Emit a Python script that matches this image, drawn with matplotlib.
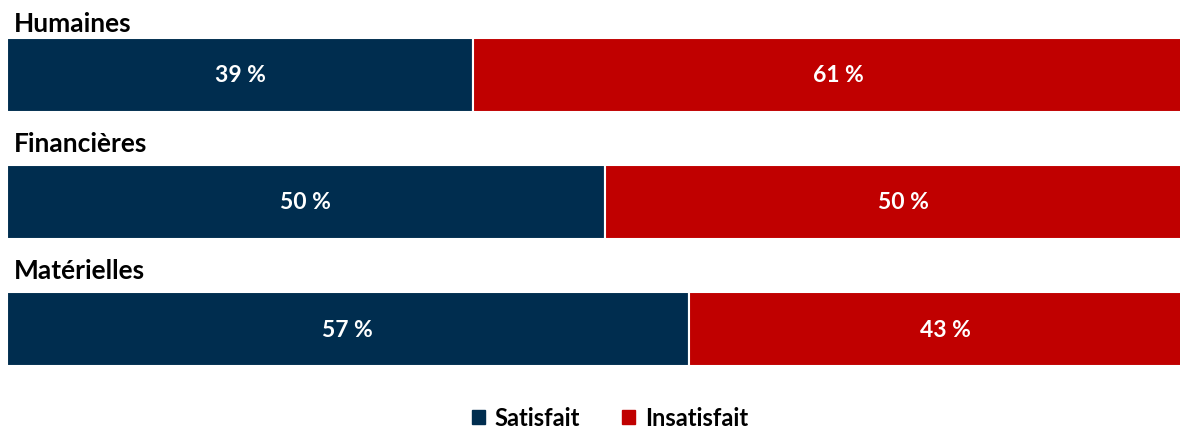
"""Satisfaction par type de ressources - barres empilees horizontales"""

import matplotlib.pyplot as plt
from matplotlib.patches import Patch

categories = ["Humaines", "Financières", "Matérielles"]
satisfait = [39, 50, 57]
insatisfait = [61, 50, 43]
series_names = ["Satisfait", "Insatisfait"]
colors = ["#002D4F", "#C00000"]


def main():
    plt.rcParams["font.family"] = ["Lato", "DejaVu Sans"]
    fig = plt.figure(figsize=(11.8, 4.31), dpi=100)
    ax = fig.add_axes([7 / 1180, 0, 1173 / 1180, 1])

    y = range(len(categories))
    h = 0.58
    ax.barh(y, satisfait, height=h, color=colors[0], edgecolor="white", linewidth=1.5)
    ax.barh(y, insatisfait, left=satisfait, height=h, color=colors[1],
            edgecolor="white", linewidth=1.5)

    # gap between label baseline and bar top (the first one is squeezed at the top)
    label_gap = [0.06, 0.11, 0.11]
    for i, name in enumerate(categories):
        ax.text(0.55, i - h / 2 - label_gap[i], name, fontsize=19, fontweight="bold",
                ha="left", va="baseline", color="black")
        ax.text(satisfait[i] / 2, i, f"{satisfait[i]} %", fontsize=16.5,
                fontweight="bold", color="white", ha="center", va="center")
        ax.text(satisfait[i] + insatisfait[i] / 2, i, f"{insatisfait[i]} %",
                fontsize=16.5, fontweight="bold", color="white",
                ha="center", va="center")

    ax.set_xlim(0, 98.1)
    ax.set_ylim(2.795, -0.598)
    ax.axis("off")

    handles = [Patch(color=c, label=n) for c, n in zip(colors, series_names)]
    fig.legend(handles=handles, loc="center", bbox_to_anchor=(610 / 1180, 1 - 419 / 431),
               ncol=2, frameon=False, handlelength=0.55, handleheight=0.55,
               handletextpad=0.4, columnspacing=1.8,
               prop={"weight": "bold", "size": 17})

    fig.savefig("out.png", dpi=100)


main()
